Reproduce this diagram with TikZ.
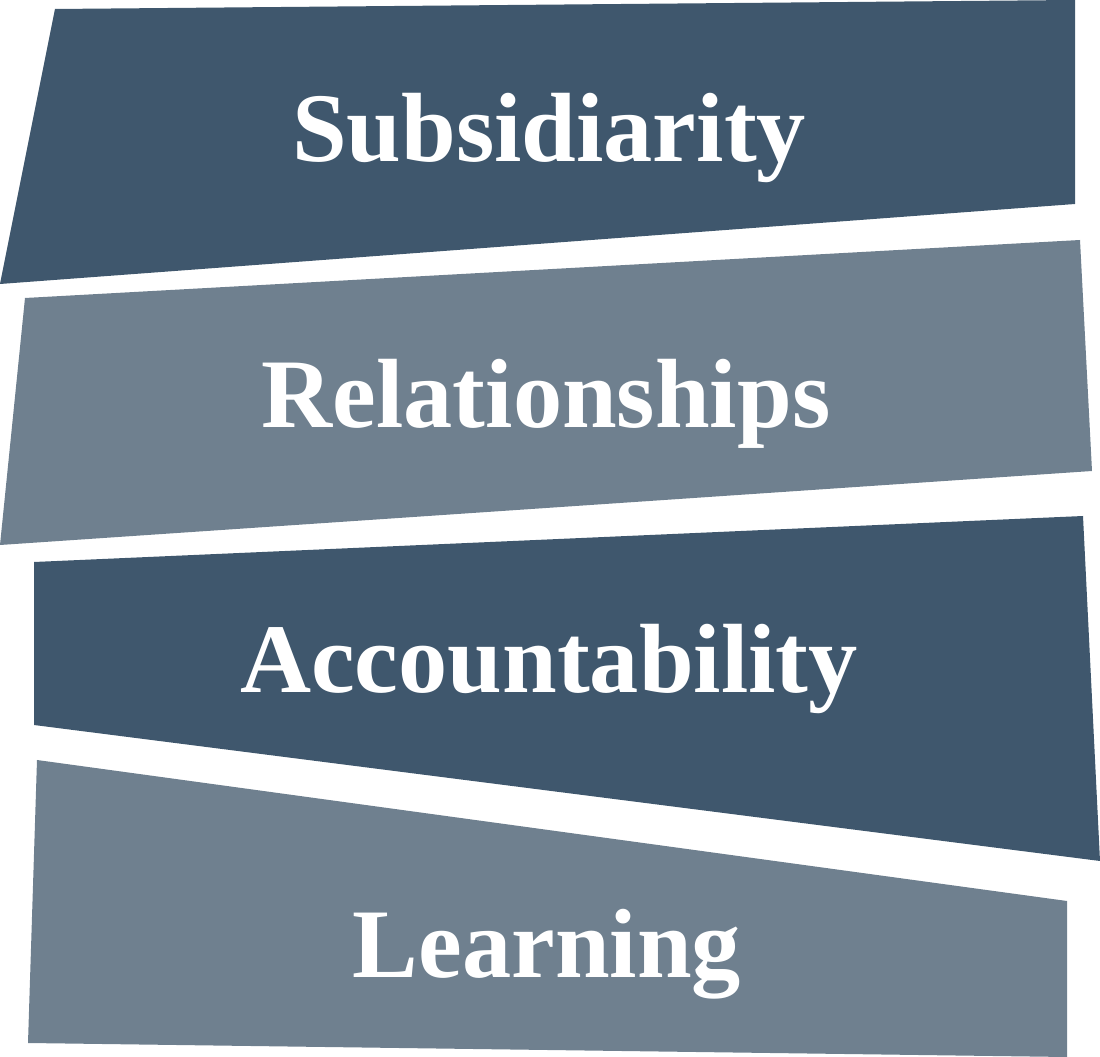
\documentclass[tikz,border=0pt]{standalone}
\usepackage{fontspec}
\setmainfont{Liberation Serif}
\usepackage{xcolor}
\definecolor{bandDark}{HTML}{3F576D}
\definecolor{bandLight}{HTML}{6F808F}

\begin{document}
\begin{tikzpicture}[x=0.02cm,y=-0.02cm]
        \useasboundingbox (0,0) rectangle (1100,1057);
        \fill[bandDark]  (55,9) -- (1075,0) -- (1075,204) -- (0,284) -- cycle;      % band 1
        \fill[bandLight] (25,298) -- (1080,240) -- (1092,471) -- (0,545) -- cycle;  % band 2
        \fill[bandDark]  (34,562) -- (1083,516) -- (1100,861) -- (34,725) -- cycle; % band 3
        \fill[bandLight] (37,760) -- (1067,901) -- (1067,1057) -- (28,1043) -- cycle; % band 4
        \node[anchor=base,text=white,font=\fontsize{56}{60}\selectfont\bfseries] (subsidiarity) at (549,162) {Subsidiarity};
        \node[anchor=base,text=white,font=\fontsize{56}{60}\selectfont\bfseries] (relationships) at (546,428) {Relationships};
        \node[anchor=base,text=white,font=\fontsize{56}{60}\selectfont\bfseries] (accountability) at (549,693) {Accountability};
        \node[anchor=base,text=white,font=\fontsize{56}{60}\selectfont\bfseries] (learning) at (547,977) {Learning};
    \end{tikzpicture}
\end{document}
